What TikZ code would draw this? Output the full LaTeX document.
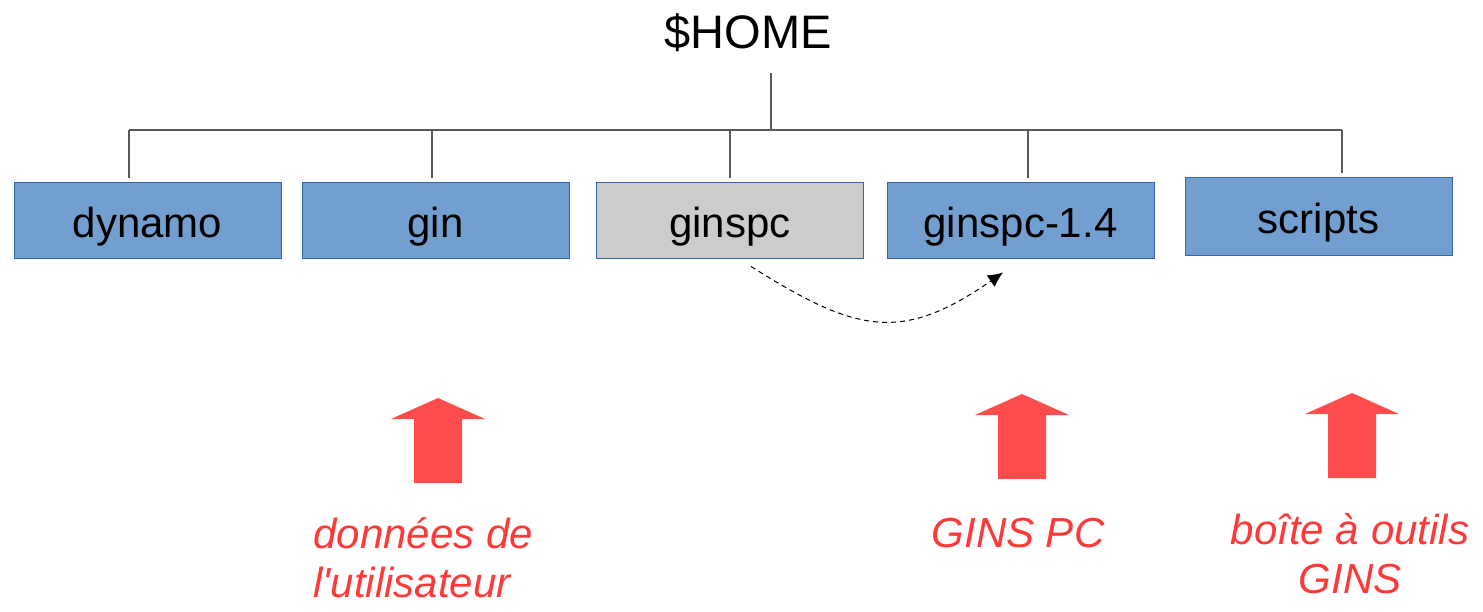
\documentclass[tikz,border=0pt]{standalone}
\usepackage{fontspec}
\setmainfont{Liberation Sans}
\usetikzlibrary{arrows.meta,positioning}
\definecolor{dirblue}{HTML}{729FCF}
\definecolor{diredge}{HTML}{3465A4}
\definecolor{dirgray}{HTML}{CCCCCC}
\definecolor{notered}{HTML}{FF3838}
\definecolor{arrowred}{HTML}{FF4D4D}

\begin{document}
\begin{tikzpicture}[x = 0.5pt, y = -0.5pt,
		dir/.style = {rectangle, draw = diredge, fill = dirblue, line width = 0.5pt, minimum width = 133.5pt, minimum height = 38pt, inner sep = 0pt, text height = 17.5pt, text depth = 0pt, font = \fontsize{21}{25}\selectfont},
		tree/.style = {draw = black!65, line width = 0.75pt},
		note/.style = {text = notered, inner sep = 0pt, font = \fontsize{21}{24.5}\selectfont\itshape},
		redarrow/.pic = {\fill[arrowred] (0,0) -- (47,21) -- (24,21) -- (24,85) -- (-24,85) -- (-24,21) -- (-47,21) -- cycle;}
		]
\useasboundingbox (0,0) rectangle (1483,611);

\node[anchor = base, inner sep = 0pt, font = \fontsize{23.5}{28}\selectfont] (home) at (748,48) {\$HOME};

\node[dir] (dynamo) at (147.5,220) {dynamo};
\node[dir] (gin) at (435.5,220) {gin};
\node[dir, fill = dirgray] (ginspc) at (730,220) {ginspc};
\node[dir] (ginspc14) at (1020.5,220) {ginspc-1.4};
\node[dir, minimum height = 39pt] (scripts) at (1318.5,216) {scripts};

% tree lines
\coordinate (stem) at (771,73);
\coordinate (bus) at (771,130);
\draw[tree] (stem) -- (bus);
\foreach \d/\x in {dynamo/129, gin/432, ginspc/730, ginspc14/1028, scripts/1342}{
	\coordinate (\d-drop) at (\x,130);
	\draw[tree] (\d-drop) -- ([yshift = 2pt]\d.north -| \d-drop);
}
\draw[tree] (dynamo-drop) -- (scripts-drop);

% ginspc -> ginspc-1.4
\draw[dash pattern = on 2.5pt off 2pt, line width = 0.5pt, -{Latex[length = 7.5pt, width = 7pt]}] ([xshift = 10.5pt, yshift = -4pt]ginspc.south) .. controls +(105,66) and +(-102,71) .. ([xshift = -8.75pt, yshift = -7pt]ginspc14.south);

% red arrows and notes
\pic at (438,398) {redarrow};
\pic at (1022,394) {redarrow};
\pic at (1352,393) {redarrow};

\node[note, anchor = base west, align = left] (ginnote) at (313,597) {données de\\l\textquotesingle utilisateur};
\node[note, anchor = base] (pcnote) at (1018,547) {GINS PC};
\node[note, anchor = base, align = center] (toolnote) at (1350,593) {boîte à outils\\GINS};

\end{tikzpicture}
\end{document}
